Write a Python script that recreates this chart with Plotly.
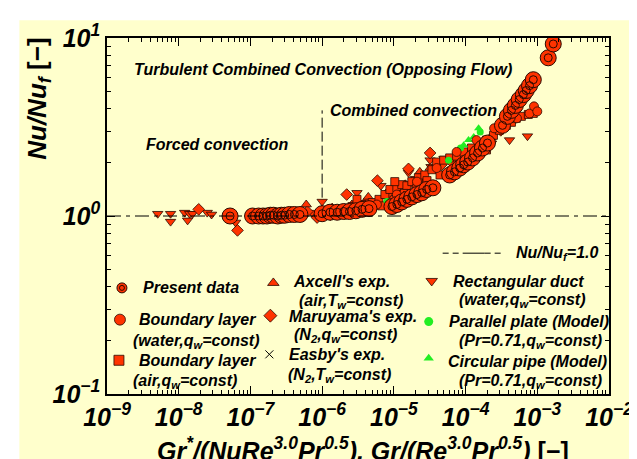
import plotly.graph_objects as go

# ---------------- data ----------------
present_x = [5.2e-8, 1.07e-7, 1.3e-7, 1.5e-7, 1.7e-7, 1.9e-7, 2.1e-7, 2.4e-7, 2.7e-7, 3.0e-7, 3.5e-7, 4.1e-7, 4.9e-7,
             1.0e-6, 1.29e-6, 1.62e-6, 2.0e-6, 2.4e-6, 2.95e-6, 3.6e-6, 4.5e-6,
             9.4e-6, 1.1e-5, 1.29e-5, 1.52e-5, 1.78e-5, 2.1e-5, 2.45e-5, 2.87e-5, 3.5e-5,
             6.0e-5, 7.0e-5, 8.3e-5, 9.4e-5, 1.07e-4, 1.25e-4, 1.47e-4, 1.72e-4, 2.02e-4,
             3.27e-4, 3.83e-4, 4.36e-4, 4.95e-4, 5.6e-4, 6.4e-4, 7.0e-4, 7.8e-4, 8.8e-4,
             1.42e-3, 1.67e-3]
present_y = [1.0, 1.0, 1.0, 1.0, 1.0, 1.01, 1.01, 1.0, 1.01, 1.01, 1.02, 1.02, 1.02,
             1.03, 1.05, 1.05, 1.06, 1.06, 1.07, 1.09, 1.10,
             1.13, 1.16, 1.20, 1.24, 1.28, 1.32, 1.35, 1.41, 1.44,
             1.70, 1.77, 1.86, 1.94, 2.01, 2.12, 2.26, 2.41, 2.57,
             3.23, 3.63, 3.92, 4.18, 4.51, 4.81, 5.07, 5.40, 5.83,
             7.74, 9.26]

bl_water_x = [1.62e-6, 3.06e-6, 5.8e-6, 1.1e-5, 2.1e-5, 3.95e-5, 7.5e-5, 1.42e-4, 2.5e-4, 3.7e-4, 5.2e-4, 7.8e-4, 9.0e-4, 1.0e-3]
bl_water_y = [1.03, 1.07, 1.16, 1.32, 1.56, 1.86, 2.29, 2.67, 3.11, 3.45, 3.54, 3.77, 4.13, 3.87]

bl_air_x = [1.62e-6, 2.6e-6, 3.6e-6, 5.0e-6, 6.2e-6, 7.5e-6, 8.8e-6, 1.1e-5, 1.29e-5, 1.52e-5, 1.78e-5, 2.2e-5,
            2.7e-5, 3.4e-5, 3.95e-5, 4.95e-5, 6.0e-5, 7.5e-5, 9.4e-5, 1.21e-4, 1.52e-4, 1.96e-4, 2.45e-4,
            2.96e-4, 3.7e-4, 4.36e-4, 5.1e-4, 6.0e-4, 7.5e-4, 8.8e-4, 1.96e-4, 1.03e-4, 1.29e-5, 2.09e-5,
            3.06e-6, 1.03e-5, 1.17e-6, 2.2e-6, 4.2e-6, 6.8e-6, 1.4e-5, 2.9e-5, 4.4e-5]
bl_air_y = [1.09, 1.13, 1.16, 1.19, 1.24, 1.32, 1.41, 1.44, 1.50, 1.48, 1.56, 1.64,
            1.70, 1.82, 2.01, 2.06, 2.12, 2.17, 2.29, 2.41, 2.50, 2.67, 2.84,
            3.03, 3.23, 3.36, 3.54, 3.63, 3.72, 3.77, 2.35, 2.06, 1.32, 1.44,
            1.24, 1.56, 1.03, 1.045, 1.09, 1.14, 1.34, 1.58, 1.70]

axcell_x = [6.0e-7, 1.0e-6, 4.4e-6, 9.4e-6, 2.3e-5, 3.2e-5, 5.4e-5, 2.6e-6, 1.42e-4, 1.38e-6]
axcell_y = [1.16, 1.09, 1.28, 1.24, 1.77, 1.86, 2.06, 1.16, 2.35, 1.115]

maruyama_x = [1.9e-8, 6.6e-8, 2.2e-6, 5.9e-6, 1.6e-5, 3.2e-5, 4.2e-6, 8.0e-6, 1.45e-5, 2.5e-5, 4.6e-5, 8.5e-5,
              1.7e-4, 3.1e-4, 8.5e-7, 6.2e-7, 1.1e-6, 2.8e-6, 5.2e-6, 1.9e-5, 6.5e-5, 1.2e-4, 2.2e-4, 4.6e-4]
maruyama_y = [1.09, 0.83, 1.32, 1.58, 1.84, 2.26, 1.205, 1.33, 1.48, 1.64, 1.94, 2.17,
              2.47, 3.03, 0.98, 1.06, 1.06, 1.12, 1.12, 1.52, 2.0, 2.3, 2.7, 3.45]

easby_x = [3.6e-6, 1.52e-5, 6.3e-5, 1.9e-6]
easby_y = [1.09, 1.32, 1.82, 1.03]

duct_x = [5.1e-9, 7.7e-9, 7.7e-9, 1.21e-8, 1.42e-8, 1.33e-8, 1.56e-8, 2.5e-8, 2.87e-8, 6.2e-8,
          1.0e-6, 3.06e-6, 6.6e-6, 1.6e-5, 3.3e-5, 3.2e-5, 4.1e-4, 7.3e-4, 1.62e-6, 7.2e-7, 1.1e-5,
          8.5e-5, 2.3e-4, 1.3e-6, 2.5e-6, 4.8e-6, 2.0e-5, 5.0e-5, 1.6e-4]
duct_y = [1.03, 1.03, 0.93, 1.045, 1.03, 0.945, 1.03, 1.045, 1.02, 0.92,
          1.205, 1.35, 1.48, 1.75, 1.89, 2.06, 2.67, 2.81, 1.02, 1.045, 1.41,
          2.06, 2.56, 1.0, 1.03, 1.05, 1.62, 2.1, 2.6]

plate_x = [1.6e-4, 5.8e-5, 8.0e-6, 8.5e-5]
plate_y = [2.96, 2.06, 1.205, 2.41]

pipe_x = [9.4e-5, 1.3e-4, 1.52e-4, 1.1e-4, 1.1e-5]
pipe_y = [2.5, 2.78, 3.11, 2.67, 1.24]

x_tick_vals = [1e-9, 1e-8, 1e-7, 1e-6, 1e-5, 1e-4, 1e-3, 1e-2]
x_tick_text = ["10<sup>\u22129</sup>", "10<sup>\u22128</sup>", "10<sup>\u22127</sup>", "10<sup>\u22126</sup>",
               "10<sup>\u22125</sup>", "10<sup>\u22124</sup>", "10<sup>\u22123</sup>", "10<sup>\u22122</sup>"]
y_tick_vals = [0.1, 1, 10]
y_tick_text = ["10<sup>\u22121</sup>", "10<sup>0</sup>", "10<sup>1</sup>"]

# ---------------- styling ----------------
RED = "#FF3300"
EDGE = "#2a0a00"
GREEN = "#22EE22"
BG = "#FFFFCC"
FONT = "Liberation Sans"

L, R, T, B = 99, 603, 27, 386  # plot area in pixels


def fx(px):
    return (px - L) / (R - L)


def fy(py):
    return (B - py) / (B - T)


fig = go.Figure()


def add(xs, ys, symbol, size, color=RED, lw=0.8, lc=EDGE):
    fig.add_trace(go.Scatter(x=xs, y=ys, mode="markers", showlegend=False, hoverinfo="skip",
                             marker=dict(symbol=symbol, size=size, color=color,
                                         line=dict(color=lc, width=lw))))


add(duct_x, duct_y, "triangle-down", 9)
add(maruyama_x, maruyama_y, "diamond", 9)
add(axcell_x, axcell_y, "triangle-up", 9)
add(bl_air_x, bl_air_y, "square", 8)
add(plate_x, plate_y, "circle", 7, color=GREEN, lw=0)
add(pipe_x, pipe_y, "triangle-up", 8, color=GREEN, lw=0)
add(easby_x, easby_y, "x-thin-open", 7, color="black", lw=1, lc="black")
add(bl_water_x, bl_water_y, "circle", 9)
add(present_x, present_y, "circle", 16, lw=1)
add(present_x, present_y, "circle-open", 8, color=EDGE, lw=1, lc=EDGE)

# ---------- legend symbols on pixel-overlay axes ----------
leg_sym = [
    (114, 279, "circle", 10, RED, 1),
    (112, 311, "circle", 11, RED, 0.8),
    (111, 352, "square", 10, RED, 0.8),
    (266, 274, "triangle-up", 10, RED, 0.8),
    (263, 307, "diamond", 10, RED, 0.8),
    (425, 272, "triangle-down", 10, RED, 0.8),
    (422, 313, "circle", 9, GREEN, 0),
    (422, 350, "triangle-up", 9, GREEN, 0),
]
for (sx, sy, sym, sz, col, lw) in leg_sym:
    fig.add_trace(go.Scatter(x=[sx], y=[sy], xaxis="x2", yaxis="y2", mode="markers", showlegend=False,
                             hoverinfo="skip",
                             marker=dict(symbol=sym, size=sz, color=col, line=dict(color=EDGE, width=lw))))
fig.add_trace(go.Scatter(x=[114], y=[279], xaxis="x2", yaxis="y2", mode="markers", showlegend=False,
                         hoverinfo="skip",
                         marker=dict(symbol="circle-open", size=5, color=EDGE, line=dict(color=EDGE, width=1))))
fig.add_trace(go.Scatter(x=[262], y=[346], xaxis="x2", yaxis="y2", mode="markers", showlegend=False,
                         hoverinfo="skip",
                         marker=dict(symbol="x-thin-open", size=8, color="black", line=dict(color="black", width=1))))

axis_common = dict(showline=True, linecolor="black", linewidth=1.5, mirror="allticks",
                   ticks="inside", ticklen=8, tickwidth=1, tickcolor="black", showgrid=False, zeroline=False,
                   tickfont=dict(family=FONT, size=25, color="black", weight="bold", style="italic"),
                   minor=dict(ticks="inside", ticklen=4, tickwidth=1, tickcolor="black", dtick="D1",
                              showgrid=False))

fig.update_layout(
    width=637, height=459,
    margin=dict(l=L, r=637 - R, t=T, b=459 - B, pad=0),
    paper_bgcolor="white", plot_bgcolor=BG,
    xaxis=dict(type="log", range=[-9, -2], tickvals=x_tick_vals, ticktext=x_tick_text,
               ticklabelstandoff=0, **axis_common),
    yaxis=dict(type="log", range=[-1, 1], tickvals=y_tick_vals, ticktext=y_tick_text,
               ticklabelstandoff=0, **axis_common),
    xaxis2=dict(overlaying="x", range=[L, R], visible=False, showgrid=False),
    yaxis2=dict(overlaying="y", range=[B, T], visible=False, showgrid=False),
    showlegend=False,
)

# background rectangle (yellow panel)
fig.add_shape(type="rect", xref="paper", yref="paper", x0=fx(11), x1=fx(626), y0=fy(470), y1=fy(9),
              fillcolor=BG, line=dict(width=0), layer="below")
# y = 1 reference line and regime divider
fig.add_shape(type="line", xref="paper", yref="y", x0=0, x1=1, y0=1, y1=1,
              line=dict(color="black", width=1, dash="14px,5px,4px,5px"), layer="above")
fig.add_shape(type="line", xref="x", yref="paper", x0=1e-6, x1=1e-6, y0=fy(188), y1=fy(100),
              line=dict(color="black", width=1, dash="10px,4px"), layer="above")
# legend line for Nu/Nuf = 1.0
fig.add_shape(type="line", xref="paper", yref="paper", x0=fx(436), x1=fx(497), y0=fy(244), y1=fy(244),
              line=dict(color="black", width=1, dash="6px,4px,6px,4px,22px,0px"))


def txt(s, px, py, size=16, anchor="left", italic=True, **kw):
    fig.add_annotation(text=s, x=fx(px), y=fy(py), xref="paper", yref="paper", showarrow=False,
                       xanchor=anchor, yanchor="middle",
                       font=dict(family=FONT, size=size, color="black", weight="bold",
                                 style="italic" if italic else "normal"), **kw)


txt("Turbulent Combined Convection (Opposing Flow)", 316, 59, anchor="center")
txt("Forced convection", 209, 134, anchor="center")
txt("Combined convection", 407, 100, anchor="center")

txt("Present data", 133, 279)
txt("Boundary layer", 129, 311)
txt("(water,q<sub>w</sub>=const)", 123, 333)
txt("Boundary layer", 129, 352)
txt("(air,q<sub>w</sub>=const)", 123, 373)
txt("Axcell's exp.", 284, 273)
txt("(air,T<sub>w</sub>=const)", 290, 293)
txt("Maruyama's exp.", 280, 308)
txt("(N<sub>2</sub>,q<sub>w</sub>=const)", 285, 327)
txt("Easby's exp.", 280, 346)
txt("(N<sub>2</sub>,T<sub>w</sub>=const)", 279, 367)
txt("Nu/Nu<sub>f</sub>=1.0", 508, 244)
txt("Rectangular duct", 444, 273)
txt("(water,q<sub>w</sub>=const)", 450, 292)
txt("Parallel plate (Model)", 440, 313)
txt("(Pr=0.71,q<sub>w</sub>=const)", 450, 333)
txt("Circular pipe (Model)", 439, 353)
txt("(Pr=0.71,q<sub>w</sub>=const)", 450, 373)

# axis titles
fig.add_annotation(text="<i>Gr<sup>*</sup>/(NuRe<sup>3.0</sup>Pr<sup>0.5</sup>), Gr/(Re<sup>3.0</sup>Pr<sup>0.5</sup>)</i> [\u2212]",
                   x=fx(356), y=fy(441), xref="paper", yref="paper", showarrow=False,
                   xanchor="center", yanchor="middle",
                   font=dict(family=FONT, size=25, color="black", weight="bold"))
fig.add_annotation(text="<i>Nu/Nu<sub>f</sub></i> [\u2212]",
                   x=fx(30), y=fy(88), xref="paper", yref="paper", showarrow=False, textangle=-90,
                   xanchor="center", yanchor="middle",
                   font=dict(family=FONT, size=26, color="black", weight="bold"))

fig.write_html("out.html")
